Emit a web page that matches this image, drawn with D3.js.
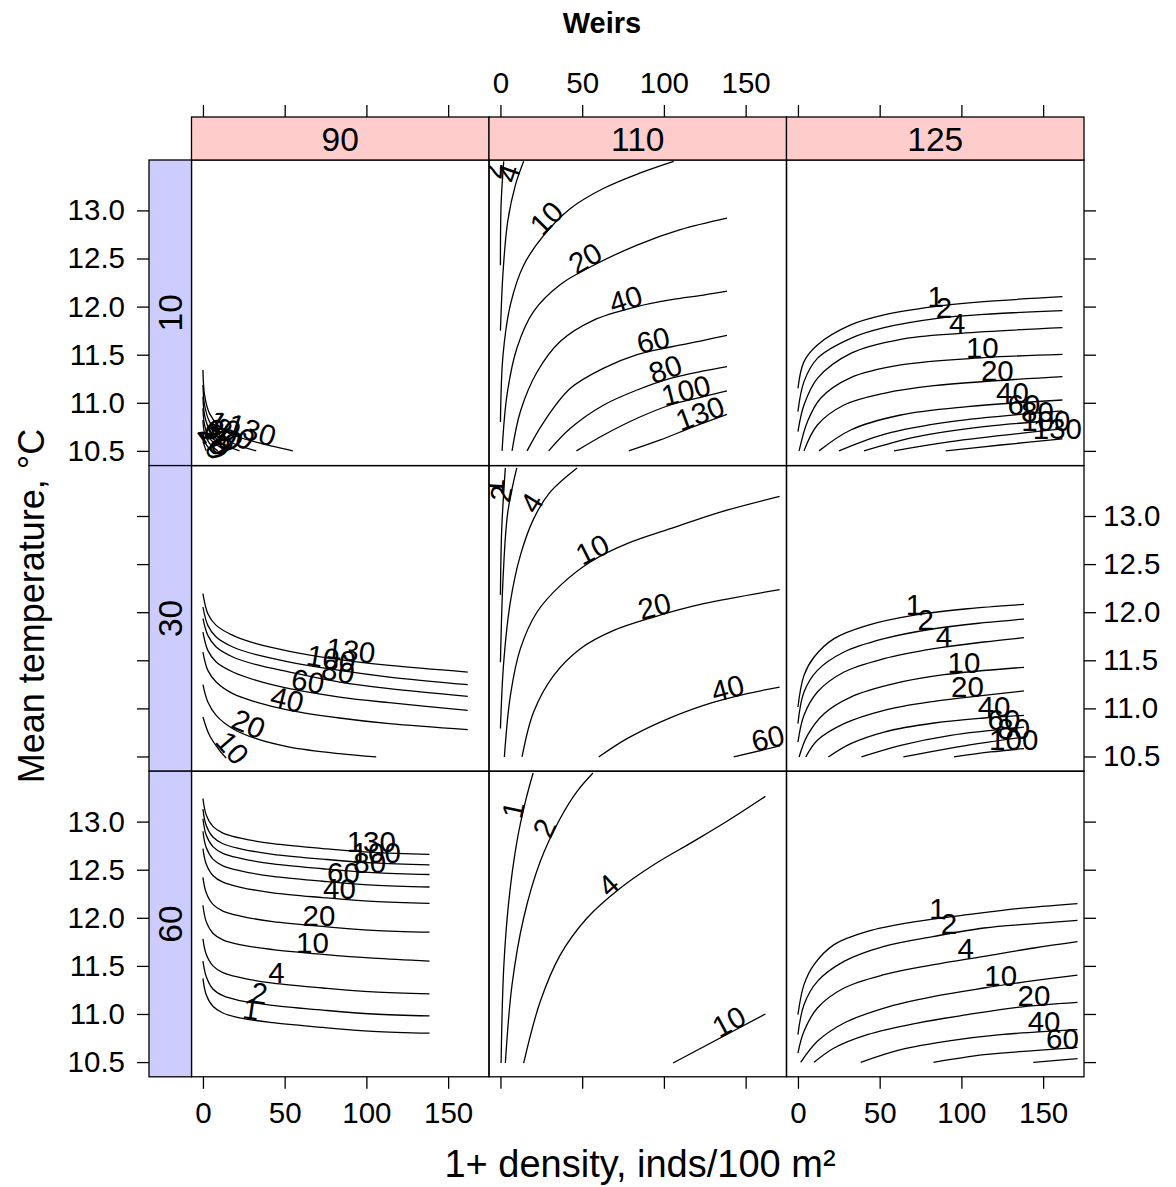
<!DOCTYPE html>
<html>
<head>
<meta charset="utf-8">
<script src="https://cdn.jsdelivr.net/npm/d3@7"></script>
<style>
  body { margin: 0; background: #fff; }
  text { font-family: "Liberation Sans", Arial, Helvetica, sans-serif; fill: #000; }
</style>
</head>
<body>
<script>
// strips: columns are weirs, rows are the second conditioning factor
var weirs = ["90", "110", "125"];
var rowLabels = ["10", "30", "60"];
var xTicks = [0, 50, 100, 150];
var yTicks = [10.5, 11.0, 11.5, 12.0, 12.5, 13.0];
// columns whose contour labels lattice drew flat
var flatLabelWeirs = ["125"];

// contour lines: level, points [density, temperature], label point
var lines_90_10 = [
  { level: 130, pts: [[0, 11.34], [1, 11.08], [4, 10.89], [10.1, 10.75], [18.3, 10.665], [32.6, 10.59], [55, 10.5]], lab: [28, 10.615] },
  { level: 100, pts: [[0, 11.185], [1, 10.977], [4, 10.804], [10.1, 10.665], [18.3, 10.579], [32.6, 10.5]], lab: [14, 10.625] },
  { level: 80, pts: [[0, 11.064], [1, 10.873], [4, 10.717], [10.1, 10.596], [22.4, 10.5]], lab: [10, 10.6] },
  { level: 60, pts: [[0, 10.943], [1, 10.769], [4, 10.631], [14.2, 10.5]], lab: [7, 10.59] },
  { level: 40, pts: [[0, 10.821], [1, 10.683], [4, 10.579], [9.1, 10.5]], lab: [4, 10.58] },
  { level: 20, pts: [[0, 10.7], [1.6, 10.579], [5.1, 10.5]], lab: [2, 10.56] },
  { level: 10, pts: [[0, 10.596], [2, 10.5]], lab: [1, 10.55] }
];
var lines_110_10 = [
  { level: 2, pts: [[0, 12.43], [0.4, 13.06], [2, 13.51]], lab: [1, 13.4] },
  { level: 4, pts: [[0, 11.75], [1.6, 12.36], [4.4, 12.88], [9.1, 13.26], [14.2, 13.51]], lab: [11, 13.35] },
  { level: 10, pts: [[0, 10.8], [1.6, 11.5], [6.1, 12.02], [14.2, 12.43], [26.5, 12.74], [42.8, 13.02], [63.2, 13.23], [85.6, 13.39], [106, 13.51]], lab: [32.6, 12.845] },
  { level: 20, pts: [[1, 10.5], [4, 11.08], [10.1, 11.57], [20.3, 11.95], [36.7, 12.23], [57.1, 12.43], [83.6, 12.64], [110, 12.8], [138.6, 12.92]], lab: [55, 12.41] },
  { level: 40, pts: [[7.1, 10.5], [12.2, 10.91], [22.4, 11.32], [36.7, 11.64], [57.1, 11.86], [83.6, 12.0], [104, 12.07], [124.3, 12.12], [138.6, 12.16]], lab: [78.5, 11.973] },
  { level: 60, pts: [[16.3, 10.5], [26.5, 10.8], [42.8, 11.15], [63.2, 11.36], [83.6, 11.5], [104, 11.58], [124.3, 11.65], [138.6, 11.7]], lab: [94.8, 11.545] },
  { level: 80, pts: [[29.5, 10.5], [42.8, 10.735], [63.2, 10.977], [83.6, 11.133], [104, 11.254], [124.3, 11.331], [138.6, 11.376]], lab: [103, 11.25] },
  { level: 100, pts: [[46.5, 10.5], [63.2, 10.665], [83.6, 10.839], [104, 10.977], [124.3, 11.064], [138.6, 11.123]], lab: [115, 11.024] },
  { level: 130, pts: [[78.5, 10.5], [97.8, 10.614], [118.2, 10.752], [138.6, 10.88]], lab: [124.3, 10.79] }
];
var lines_125_10 = [
  { level: 1, pts: [[0, 11.15], [3.7, 11.428], [11.9, 11.601], [32.3, 11.809], [52.7, 11.913], [83.3, 11.999], [113.8, 12.051], [161.8, 12.103]], lab: [84.3, 12.0] },
  { level: 2, pts: [[0, 10.908], [3.7, 11.22], [11.9, 11.462], [32.3, 11.67], [52.7, 11.781], [85.3, 11.878], [113.8, 11.92], [161.8, 11.958]], lab: [89.4, 11.884] },
  { level: 4, pts: [[0, 10.7], [3.7, 10.977], [11.9, 11.254], [32.3, 11.514], [62.9, 11.66], [99.6, 11.722], [161.8, 11.781]], lab: [97.5, 11.72] },
  { level: 10, pts: [[0.7, 10.5], [5.8, 10.804], [13.9, 11.047], [32.3, 11.261], [62.9, 11.393], [113.8, 11.469], [161.8, 11.504]], lab: [112.8, 11.469] },
  { level: 20, pts: [[3.7, 10.5], [11.9, 10.769], [28.2, 10.977], [52.7, 11.099], [83.3, 11.178], [161.8, 11.272]], lab: [122, 11.224] },
  { level: 40, pts: [[12.9, 10.5], [32.3, 10.717], [62.9, 10.873], [103.7, 10.96], [161.8, 11.029]], lab: [131.2, 10.993] },
  { level: 60, pts: [[25.1, 10.5], [52.7, 10.672], [93.5, 10.804], [161.8, 10.915]], lab: [138.3, 10.877] },
  { level: 80, pts: [[40.4, 10.5], [73.1, 10.648], [113.8, 10.752], [161.8, 10.821]], lab: [146.5, 10.799] },
  { level: 100, pts: [[58.8, 10.5], [93.5, 10.596], [161.8, 10.728]], lab: [151.6, 10.708] },
  { level: 130, pts: [[90.4, 10.5], [124, 10.561], [161.8, 10.624]], lab: [158.7, 10.619] }
];
var lines_90_30 = [
  { level: 130, pts: [[0, 12.192], [3, 11.984], [8.1, 11.863], [18.3, 11.759], [32.6, 11.673], [53, 11.593], [83.6, 11.506], [114, 11.447], [162, 11.378]], lab: [89.7, 11.494] },
  { level: 100, pts: [[0, 12.054], [3, 11.863], [8.1, 11.742], [18.3, 11.638], [32.6, 11.558], [53, 11.482], [83.6, 11.395], [114, 11.326], [162, 11.246]], lab: [77.4, 11.412] },
  { level: 80, pts: [[0, 11.932], [3, 11.759], [8.1, 11.638], [18.3, 11.534], [32.6, 11.454], [53, 11.378], [83.6, 11.274], [114, 11.205], [162, 11.125]], lab: [81.5, 11.281] },
  { level: 60, pts: [[0, 11.794], [3, 11.603], [8.1, 11.482], [18.3, 11.378], [32.6, 11.291], [53, 11.205], [83.6, 11.118], [114, 11.059], [162, 10.98]], lab: [63.2, 11.176] },
  { level: 40, pts: [[0, 11.586], [3, 11.395], [8.1, 11.274], [18.3, 11.153], [32.6, 11.066], [53, 10.98], [83.6, 10.9], [114, 10.841], [162, 10.779]], lab: [50, 10.99] },
  { level: 20, pts: [[0, 11.246], [3, 11.066], [8.1, 10.928], [18.3, 10.789], [32.6, 10.685], [53, 10.598], [83.6, 10.529], [106, 10.495]], lab: [25.4, 10.74] },
  { level: 10, pts: [[0, 10.91], [4, 10.72], [10.1, 10.564], [14.2, 10.484]], lab: [13.2, 10.52] }
];
var lines_110_30 = [
  { level: 1, pts: [[0, 12.18], [0.8, 12.87], [3, 13.5]], lab: [2.2, 13.3] },
  { level: 2, pts: [[0, 11.48], [1.6, 12.35], [4.5, 13.04], [10, 13.5]], lab: [6.5, 13.21] },
  { level: 4, pts: [[0, 10.79], [2, 11.48], [6.1, 12.11], [12.2, 12.59], [20.3, 12.97], [30.5, 13.25], [46.9, 13.5]], lab: [24.4, 13.08] },
  { level: 10, pts: [[2.4, 10.495], [6.1, 11.136], [12.2, 11.621], [22.4, 12.002], [36.7, 12.279], [55, 12.522], [77.4, 12.712], [104, 12.868], [134.5, 13.041], [170.8, 13.204]], lab: [59, 12.556] },
  { level: 20, pts: [[13.2, 10.495], [20.3, 10.962], [32.6, 11.343], [48.9, 11.621], [69.3, 11.811], [93.8, 11.95], [124.3, 12.088], [170.8, 12.234]], lab: [95.8, 11.959] },
  { level: 40, pts: [[60.1, 10.495], [77.4, 10.685], [97.8, 10.858], [124.3, 11.032], [150.9, 11.153], [170.8, 11.222]], lab: [140.6, 11.106] },
  { level: 60, pts: [[142.7, 10.495], [171, 10.61]], lab: [165, 10.586] }
];
var lines_125_30 = [
  { level: 1, pts: [[0, 11.014], [3.7, 11.343], [9.9, 11.534], [22.1, 11.725], [42.5, 11.863], [73.1, 11.974], [103.7, 12.036], [138.3, 12.081]], lab: [71, 11.97] },
  { level: 2, pts: [[0, 10.841], [3.7, 11.17], [11.9, 11.395], [28.2, 11.586], [52.7, 11.725], [83.3, 11.828], [113.8, 11.891], [138.3, 11.929]], lab: [78.2, 11.81] },
  { level: 4, pts: [[0, 10.65], [3.7, 10.928], [11.9, 11.17], [28.2, 11.378], [52.7, 11.517], [83.3, 11.621], [113.8, 11.69], [138.3, 11.735]], lab: [89.4, 11.635] },
  { level: 10, pts: [[0.7, 10.495], [5.8, 10.72], [16, 10.945], [32.3, 11.118], [58.8, 11.257], [89.4, 11.35], [138.3, 11.427]], lab: [101.6, 11.37] },
  { level: 20, pts: [[4.8, 10.495], [11.9, 10.668], [28.2, 10.841], [52.7, 10.98], [83.3, 11.073], [113.8, 11.135], [138.3, 11.181]], lab: [103.7, 11.115] },
  { level: 40, pts: [[18.6, 10.495], [32.3, 10.633], [52.7, 10.754], [83.3, 10.848], [113.8, 10.9], [138.3, 10.928]], lab: [120, 10.907] },
  { level: 60, pts: [[38.8, 10.495], [62.9, 10.616], [93.5, 10.72], [138.3, 10.806]], lab: [126, 10.78] },
  { level: 80, pts: [[64.5, 10.495], [93.5, 10.588], [138.3, 10.702]], lab: [132, 10.686] },
  { level: 100, pts: [[95.5, 10.495], [117.9, 10.547], [138.3, 10.581]], lab: [132, 10.57] }
];
var lines_90_60 = [
  { level: 130, pts: [[0, 13.24], [2, 13.07], [6.1, 12.95], [12.2, 12.88], [22.4, 12.83], [42.8, 12.77], [73.4, 12.72], [104, 12.68], [138.6, 12.66]], lab: [103, 12.685] },
  { level: 100, pts: [[0, 13.13], [2, 12.96], [6.1, 12.84], [12.2, 12.77], [22.4, 12.72], [42.8, 12.66], [73.4, 12.61], [104, 12.57], [138.6, 12.55]], lab: [106, 12.57] },
  { level: 80, pts: [[0, 13.03], [2, 12.86], [6.1, 12.74], [12.2, 12.67], [22.4, 12.62], [42.8, 12.56], [73.4, 12.51], [104, 12.47], [138.6, 12.45]], lab: [102, 12.47] },
  { level: 60, pts: [[0, 12.9], [2, 12.73], [6.1, 12.61], [12.2, 12.54], [22.4, 12.49], [42.8, 12.43], [73.4, 12.38], [104, 12.34], [138.6, 12.32]], lab: [86, 12.36] },
  { level: 40, pts: [[0, 12.72], [2, 12.56], [6.1, 12.44], [12.2, 12.37], [22.4, 12.32], [42.8, 12.26], [73.4, 12.21], [104, 12.17], [138.6, 12.15]], lab: [83.5, 12.2] },
  { level: 20, pts: [[0, 12.42], [2, 12.26], [6.1, 12.14], [12.2, 12.07], [22.4, 12.02], [42.8, 11.96], [73.4, 11.91], [104, 11.87], [138.6, 11.85]], lab: [71, 11.91] },
  { level: 10, pts: [[0, 12.13], [2, 11.96], [6.1, 11.84], [12.2, 11.77], [22.4, 11.72], [42.8, 11.67], [73.4, 11.62], [104, 11.58], [138.6, 11.55]], lab: [67, 11.63] },
  { level: 4, pts: [[0, 11.78], [2, 11.62], [6.1, 11.5], [12.2, 11.43], [22.4, 11.38], [42.8, 11.32], [73.4, 11.27], [104, 11.23], [138.6, 11.21]], lab: [45, 11.32] },
  { level: 2, pts: [[0, 11.55], [2, 11.39], [6.1, 11.26], [12.2, 11.19], [22.4, 11.14], [42.8, 11.09], [73.4, 11.04], [104, 11.0], [138.6, 10.98]], lab: [33.6, 11.11] },
  { level: 1, pts: [[0, 11.37], [2, 11.2], [6.1, 11.08], [12.2, 11.01], [22.4, 10.96], [42.8, 10.91], [73.4, 10.86], [104, 10.82], [138.6, 10.8]], lab: [28.5, 10.945] }
];
var lines_110_60 = [
  { level: 1, pts: [[0.4, 10.49], [2, 11.478], [5.1, 12.171], [10.1, 12.795], [15.3, 13.21], [20, 13.505]], lab: [14, 13.1] },
  { level: 2, pts: [[3, 10.49], [7.1, 11.305], [14.2, 11.998], [24.4, 12.587], [36.7, 13.037], [46.9, 13.314], [56.6, 13.505]], lab: [32.6, 12.89] },
  { level: 4, pts: [[14.2, 10.49], [24.4, 11.132], [36.7, 11.617], [53, 11.998], [73.4, 12.31], [93.8, 12.552], [118.2, 12.795], [138.6, 13.003], [162.1, 13.262]], lab: [70.3, 12.26] },
  { level: 10, pts: [[105.6, 10.49], [162.1, 11.0]], lab: [142.7, 10.825] }
];
var lines_125_60 = [
  { level: 1, pts: [[0, 10.993], [3.7, 11.305], [9.85, 11.513], [22.1, 11.721], [42.5, 11.859], [73.1, 11.963], [103.7, 12.032], [134.2, 12.095], [171, 12.147]], lab: [85.3, 11.99] },
  { level: 2, pts: [[0, 10.785], [3.7, 11.097], [11.9, 11.339], [28.2, 11.547], [52.7, 11.703], [83.3, 11.807], [113.8, 11.894], [144.4, 11.939], [171, 11.973]], lab: [92.4, 11.83] },
  { level: 4, pts: [[0, 10.594], [3.7, 10.82], [11.9, 11.062], [28.2, 11.27], [52.7, 11.409], [83.3, 11.513], [113.8, 11.599], [144.4, 11.686], [171, 11.752]], lab: [102.6, 11.57] },
  { level: 10, pts: [[1.7, 10.497], [11.9, 10.716], [28.2, 10.906], [52.7, 11.062], [83.3, 11.183], [113.8, 11.27], [144.4, 11.346], [171, 11.405]], lab: [124, 11.295] },
  { level: 20, pts: [[9.85, 10.497], [22.1, 10.646], [42.5, 10.785], [73.1, 10.906], [103.7, 10.993], [134.2, 11.069], [171, 11.121]], lab: [144.4, 11.083] },
  { level: 40, pts: [[38.4, 10.497], [62.9, 10.629], [93.5, 10.723], [124, 10.785], [171, 10.837]], lab: [150.6, 10.814] },
  { level: 60, pts: [[82.9, 10.497], [113.8, 10.577], [144.4, 10.619], [171, 10.653]], lab: [161.8, 10.64] },
  { level: 80, pts: [[144, 10.497], [171, 10.536]], lab: null }
];

var panels = [
  [lines_90_10, lines_110_10, lines_125_10],
  [lines_90_30, lines_110_30, lines_125_30],
  [lines_90_60, lines_110_60, lines_125_60]
];

var W = 1176, H = 1187;
var plotLeft = 191.5, plotTop = 160, pw = 297.5, ph = 305.6;
var stripTop = 117, stripLeft = 149;
var tickFont = 29.5, stripFont = 33.5, labFont = 29.5;

var svg = d3.select("body").append("svg").attr("width", W).attr("height", H);

var x = d3.scaleLinear().domain([-7, 175]).range([0, pw]);
var y = d3.scaleLinear().domain([10.347, 13.524]).range([ph, 0]);
var line = d3.line()
  .x(function(d) { return x(d[0]); })
  .y(function(d) { return y(d[1]); })
  .curve(d3.curveCatmullRom.alpha(0.5));

svg.append("defs").append("clipPath").attr("id", "pclip")
  .append("rect").attr("width", pw).attr("height", ph);

// angle of the line at the label; nearly flat stretches get flat text
function labelAngle(pts, lab) {
  var sp = pts.map(function(p) { return [x(p[0]), y(p[1])]; });
  var lx = x(lab[0]), ly = y(lab[1]);
  var best = 0, bd = Infinity;
  for (var i = 0; i < sp.length - 1; i++) {
    var ax = sp[i][0], ay = sp[i][1], bx = sp[i + 1][0], by = sp[i + 1][1];
    var dx = bx - ax, dy = by - ay, l2 = dx * dx + dy * dy;
    var t = l2 ? Math.max(0, Math.min(1, ((lx - ax) * dx + (ly - ay) * dy) / l2)) : 0;
    var ex = ax + t * dx - lx, ey = ay + t * dy - ly, d = ex * ex + ey * ey;
    if (d < bd) { bd = d; best = i; }
  }
  var a = Math.atan2(sp[best + 1][1] - sp[best][1], sp[best + 1][0] - sp[best][0]) * 180 / Math.PI;
  if (a > 90) a -= 180;
  if (a < -90) a += 180;
  if (Math.abs(a) < 6) a = 0;
  return a;
}

panels.forEach(function(row, r) {
  row.forEach(function(cells, c) {
    var flat = flatLabelWeirs.indexOf(weirs[c]) >= 0;
    var g = svg.append("g")
      .attr("transform", "translate(" + (plotLeft + c * pw) + "," + (plotTop + r * ph) + ")");
    var inner = g.append("g").attr("clip-path", "url(#pclip)");
    inner.selectAll("path.contour").data(cells).enter().append("path")
      .attr("class", "contour")
      .attr("d", function(d) { return line(d.pts); })
      .attr("fill", "none").attr("stroke", "#000").attr("stroke-width", 1.3);
    inner.selectAll("text.clab").data(cells.filter(function(d) { return d.lab; }))
      .enter().append("text")
      .attr("class", "clab")
      .attr("font-size", labFont)
      .attr("text-anchor", "middle")
      .attr("transform", function(d) {
        var a = flat ? 0 : labelAngle(d.pts, d.lab);
        return "translate(" + x(d.lab[0]) + "," + y(d.lab[1]) + ") rotate(" + a + ")";
      })
      .text(function(d) { return d.level; });
    g.append("rect").attr("width", pw).attr("height", ph)
      .attr("fill", "none").attr("stroke", "#000").attr("stroke-width", 1.3);
  });
});

// strips
weirs.forEach(function(w, c) {
  var s = svg.append("g").attr("transform", "translate(" + (plotLeft + c * pw) + "," + stripTop + ")");
  s.append("rect").attr("width", pw).attr("height", plotTop - stripTop)
    .attr("fill", "#ffcccc").attr("stroke", "#000").attr("stroke-width", 1.3);
  s.append("text").attr("x", pw / 2).attr("y", (plotTop - stripTop) / 2).attr("dy", "0.36em")
    .attr("text-anchor", "middle").attr("font-size", stripFont).text(w);
});
rowLabels.forEach(function(lab, r) {
  var s = svg.append("g").attr("transform", "translate(" + stripLeft + "," + (plotTop + r * ph) + ")");
  s.append("rect").attr("width", plotLeft - stripLeft).attr("height", ph)
    .attr("fill", "#ccccff").attr("stroke", "#000").attr("stroke-width", 1.3);
  s.append("text")
    .attr("transform", "translate(" + ((plotLeft - stripLeft) / 2) + "," + (ph / 2) + ") rotate(-90)")
    .attr("dy", "0.36em").attr("text-anchor", "middle").attr("font-size", stripFont).text(lab);
});

// axes, alternating labels as in lattice
var fmtY = d3.format(".1f");
function styleAxis(g) {
  g.select(".domain").remove();
  g.attr("font-size", tickFont).attr("font-family", null);
  g.selectAll(".tick line").attr("stroke", "#000").attr("stroke-width", 1.3);
  g.selectAll(".tick text").attr("fill", "#000");
}
[0, 1, 2].forEach(function(r) {
  svg.append("g").attr("transform", "translate(" + stripLeft + "," + (plotTop + r * ph) + ")")
    .call(d3.axisLeft(y).tickValues(yTicks).tickSize(12).tickPadding(12)
      .tickFormat(r === 1 ? function() { return ""; } : fmtY))
    .call(styleAxis);
  svg.append("g").attr("transform", "translate(" + (plotLeft + 3 * pw) + "," + (plotTop + r * ph) + ")")
    .call(d3.axisRight(y).tickValues(yTicks).tickSize(12).tickPadding(7)
      .tickFormat(r === 1 ? fmtY : function() { return ""; }))
    .call(styleAxis);
});
[0, 1, 2].forEach(function(c) {
  svg.append("g").attr("transform", "translate(" + (plotLeft + c * pw) + "," + stripTop + ")")
    .call(d3.axisTop(x).tickValues(xTicks).tickSize(12).tickPadding(12)
      .tickFormat(c === 1 ? d3.format("d") : function() { return ""; }))
    .call(styleAxis);
  svg.append("g").attr("transform", "translate(" + (plotLeft + c * pw) + "," + (plotTop + 3 * ph) + ")")
    .call(d3.axisBottom(x).tickValues(xTicks).tickSize(12).tickPadding(13)
      .tickFormat(c === 1 ? function() { return ""; } : d3.format("d")))
    .call(styleAxis);
});

// titles
svg.append("text").attr("x", 602).attr("y", 33).attr("text-anchor", "middle")
  .attr("font-size", 29).attr("font-weight", "bold").text("Weirs");
svg.append("text").attr("x", 640).attr("y", 1177).attr("text-anchor", "middle")
  .attr("font-size", 38).text("1+ density, inds/100 m²");
svg.append("text").attr("transform", "translate(31,606) rotate(-90)").attr("dy", "0.36em")
  .attr("text-anchor", "middle").attr("font-size", 36).text("Mean temperature, °C");
</script>
</body>
</html>
